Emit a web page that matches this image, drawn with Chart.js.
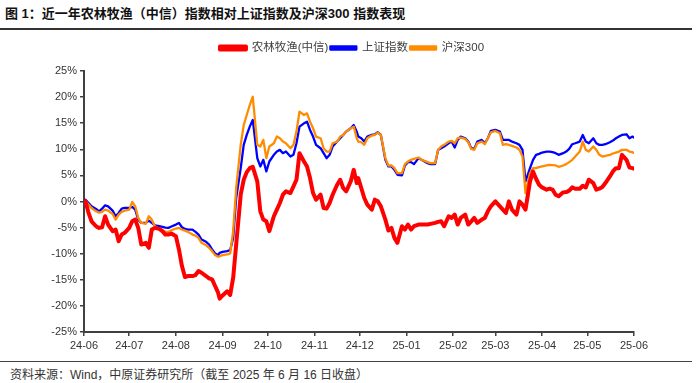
<!DOCTYPE html>
<html><head><meta charset="utf-8">
<script src="https://cdn.jsdelivr.net/npm/chart.js@4"></script>
<style>
html,body{margin:0;padding:0;background:#fff;width:700px;height:383px;overflow:hidden}
#title{position:absolute;left:5px;top:3px;font:bold 13px "Liberation Sans","Noto Sans CJK SC";color:#111;white-space:nowrap}
#rule1{position:absolute;left:0;top:28px;width:692px;height:2px;background:#333}
#wrap{position:absolute;left:0;top:30px;width:700px;height:330px}
#rule2{position:absolute;left:0;top:361px;width:692px;height:1px;background:#444}
#src{position:absolute;left:10px;top:365px;font:12px "Liberation Sans","Noto Sans CJK SC";color:#333;white-space:nowrap}
</style></head>
<body>
<div id="title">图 1：近一年农林牧渔（中信）指数相对上证指数及沪深300 指数表现</div>
<div id="rule1"></div>
<div id="wrap"><canvas id="c" width="700" height="330"></canvas></div>
<div id="rule2"></div>
<div id="src">资料来源：Wind，中原证券研究所（截至 2025 年 6 月 16 日收盘）</div>
<script>
const seriesNames = ['农林牧渔(中信)', '上证指数', '沪深300'];
const tickDates = ['2024-06-16','2024-07-16','2024-08-16','2024-09-16','2024-10-16','2024-11-16','2024-12-16','2025-01-16','2025-02-16','2025-03-16','2025-04-16','2025-05-16','2025-06-16'];
const tickLabels = ['24-06','24-07','24-08','24-09','24-10','24-11','24-12','25-01','25-02','25-03','25-04','25-05','25-06'];
const dates = [
'2024-06-17','2024-06-19','2024-06-21','2024-06-24','2024-06-26','2024-06-28','2024-06-30','2024-07-02','2024-07-05','2024-07-07',
'2024-07-09','2024-07-11','2024-07-13','2024-07-16','2024-07-18','2024-07-20','2024-07-22','2024-07-24','2024-07-27','2024-07-29',
'2024-07-31','2024-08-02','2024-08-05','2024-08-07','2024-08-09','2024-08-11','2024-08-13','2024-08-16','2024-08-18','2024-08-20',
'2024-08-22','2024-08-24','2024-08-27','2024-08-29','2024-08-31','2024-09-02','2024-09-05','2024-09-07','2024-09-09','2024-09-11',
'2024-09-13',
'2024-09-14','2024-09-16','2024-09-19','2024-09-21','2024-09-23','2024-09-25','2024-09-28','2024-09-30','2024-10-02','2024-10-04',
'2024-10-06','2024-10-09','2024-10-11','2024-10-13','2024-10-15','2024-10-17','2024-10-20','2024-10-22','2024-10-24','2024-10-26',
'2024-10-28','2024-10-31','2024-11-02','2024-11-04','2024-11-06','2024-11-09','2024-11-11','2024-11-13','2024-11-15','2024-11-17',
'2024-11-20','2024-11-22','2024-11-24','2024-11-26','2024-11-28','2024-12-01','2024-12-03','2024-12-05','2024-12-07','2024-12-10',
'2024-12-12','2024-12-14',
'2024-12-15','2024-12-17','2024-12-19','2024-12-21','2024-12-24','2024-12-26','2024-12-28','2024-12-30','2025-01-02','2025-01-04',
'2025-01-06','2025-01-08','2025-01-10','2025-01-13','2025-01-15','2025-01-17','2025-01-19','2025-01-21','2025-01-24','2025-01-26',
'2025-01-28','2025-01-30','2025-02-01','2025-02-04','2025-02-06','2025-02-08','2025-02-10','2025-02-13','2025-02-15','2025-02-17',
'2025-02-19','2025-02-21','2025-02-24','2025-02-26','2025-02-28','2025-03-02','2025-03-04','2025-03-07','2025-03-09','2025-03-11',
'2025-03-13','2025-03-16',
'2025-03-19','2025-03-21','2025-03-23','2025-03-25','2025-03-27','2025-03-30','2025-04-01','2025-04-03','2025-04-05','2025-04-08',
'2025-04-10','2025-04-12','2025-04-14','2025-04-16','2025-04-19','2025-04-21','2025-04-23','2025-04-25','2025-04-27','2025-04-30',
'2025-05-02','2025-05-04','2025-05-06','2025-05-08','2025-05-11','2025-05-13','2025-05-15','2025-05-17','2025-05-20','2025-05-22',
'2025-05-24','2025-05-26','2025-05-28','2025-05-31','2025-06-02','2025-06-04','2025-06-06','2025-06-08','2025-06-11','2025-06-13',
'2025-06-15','2025-06-16'
];
const agriValues = [
0.03,-2.19,-3.79,-4.74,-5.06,-4.93,-2.83,-4.42,-5.69,-5.38,
-7.60,-6.33,-6.01,-5.06,-3.79,-3.47,-5.06,-8.24,-7.92,-8.87,
-5.38,-5.06,-5.25,-5.69,-6.33,-6.33,-6.14,-6.65,-9.19,-12.37,
-14.47,-14.28,-14.28,-14.09,-13.33,-13.65,-14.28,-14.73,-14.92,-16.19,
-17.46,
-18.6,-18.0,-17.2,-17.9,-14.60,-8.24,1.30,4.17,5.63,6.39,
6.65,3.85,-1.88,-3.47,-3.79,-5.69,-2.83,-1.56,-0.29,1.30,
1.94,1.62,2.89,4.17,9.26,7.66,6.71,4.48,1.62,0.35,
1.30,-1.24,-1.37,-0.29,1.30,3.21,4.17,2.58,1.94,3.85,
6.07,3.53,
4.48,2.58,0.67,-0.60,-1.56,0.35,0.03,-0.92,-3.47,-5.57,
-5.06,-6.97,-7.92,-4.74,-5.38,-4.42,-5.38,-4.74,-4.42,-4.42,
-4.42,-4.42,-4.29,-4.10,-3.91,-3.79,-4.74,-2.83,-3.15,-2.51,
-4.42,-3.15,-2.51,-4.42,-3.79,-3.15,-4.10,-3.47,-3.15,-1.88,
-0.92,0.03,
-0.92,-1.56,-2.19,0.03,-1.56,-2.51,0.03,-0.60,-1.56,3.85,
5.76,4.36,3.21,2.70,2.26,2.45,2.26,1.30,0.99,1.75,
1.81,2.07,2.70,2.45,2.45,3.02,2.70,4.17,3.53,2.26,
2.45,2.77,3.53,4.80,5.76,6.39,6.39,8.94,7.98,6.52,
6.39,6.27
];
const shValues = [
0.35,-0.29,-0.92,-1.43,-1.88,-1.37,-0.73,-0.92,-1.75,-2.83,
-2.19,-1.37,-1.24,-1.24,-1.05,-1.56,-3.47,-4.10,-4.10,-3.66,
-4.10,-4.55,-4.74,-4.87,-4.99,-5.06,-4.80,-4.42,-4.10,-4.93,
-5.25,-5.38,-5.38,-5.82,-6.33,-7.28,-7.73,-8.24,-9.19,-9.96,
-10.27,
-9.83,-9.64,-9.51,-9.32,-6.97,0.67,6.39,10.85,12.75,14.34,
15.62,8.30,6.71,7.98,5.76,7.66,8.94,9.57,9.89,9.26,
9.57,8.62,8.94,11.16,14.34,14.98,15.30,13.71,12.44,10.85,
10.21,9.26,8.30,8.94,10.53,11.48,12.12,12.75,13.39,14.03,
14.66,13.39,
12.44,12.12,11.48,12.44,12.75,12.88,13.26,12.75,7.98,6.71,
6.71,6.07,5.12,4.99,6.90,7.54,7.54,7.16,8.30,7.98,
7.66,7.35,7.16,7.16,9.89,10.21,10.53,11.16,11.48,10.34,
11.80,12.44,12.12,11.48,10.21,10.08,11.48,11.80,11.16,12.12,
13.52,13.71,
13.39,11.80,11.80,11.80,11.48,11.16,10.85,9.89,3.85,6.39,
7.98,8.94,9.13,9.38,9.57,9.57,9.45,9.26,8.94,9.26,
9.57,10.08,10.97,11.16,11.48,12.75,11.48,11.16,12.12,11.16,
10.85,10.85,10.97,11.35,11.67,12.12,12.44,12.75,12.88,12.12,
12.44,12.25
];
const hs300Values = [
0.16,-0.60,-1.24,-1.88,-2.13,-2.00,-1.56,-1.75,-2.39,-3.47,
-2.51,-2.00,-1.75,-1.56,-0.10,-0.92,-3.15,-4.10,-4.29,-2.83,
-3.47,-4.74,-5.38,-5.57,-5.76,-5.82,-5.50,-5.18,-5.06,-5.38,
-5.57,-5.82,-6.33,-6.52,-6.97,-7.92,-8.37,-8.87,-9.51,-10.27,
-10.59,
-10.46,-10.27,-10.15,-9.96,-5.69,2.58,10.85,14.66,16.57,18.48,
20.07,10.85,10.53,11.80,8.30,10.53,11.16,12.44,12.12,11.48,
11.16,10.21,10.85,13.39,17.21,16.57,16.89,15.30,14.03,12.44,
12.12,10.21,9.57,9.57,11.16,11.48,12.44,12.75,13.39,14.03,
14.34,12.12,
11.48,11.35,10.85,12.12,12.63,12.75,13.20,12.75,8.30,6.90,
6.90,6.39,5.44,5.44,7.16,7.66,7.98,8.17,8.43,7.98,
7.79,7.54,7.35,7.35,9.89,10.53,10.85,11.48,11.61,11.16,
12.12,12.25,11.99,11.35,10.08,9.89,11.16,11.48,10.97,12.12,
13.26,13.52,
13.07,10.85,10.97,10.85,10.65,10.34,9.89,8.62,1.62,5.44,
6.39,6.39,6.58,6.71,6.90,7.03,6.97,6.90,6.65,6.90,
7.16,7.54,7.98,8.62,9.57,11.48,9.89,9.57,10.53,9.89,
8.94,8.62,8.75,8.94,9.19,9.38,9.57,9.89,9.89,9.57,
9.45,9.26
];
const yTickMin = -25, yTickMax = 25, yTickStep = 5;

const BASE = Date.UTC(2024, 5, 16);
function dayNum(s) { const p = s.split('-').map(Number); return (Date.UTC(p[0], p[1]-1, p[2]) - BASE) / 86400000; }
function pts(vals) { return dates.map((d, i) => ({ x: dayNum(d), y: vals[i] })); }
const tickDays = tickDates.map(dayNum);

const axisColor = '#404040';
const tickFont = { family: '"Liberation Sans", Arial, sans-serif', size: 11 };

new Chart(document.getElementById('c'), {
  type: 'line',
  data: {
    datasets: [
      { label: seriesNames[0], data: pts(agriValues), borderColor: '#FF0000', backgroundColor: '#FF0000', borderWidth: 4, order: 0 },
      { label: seriesNames[1], data: pts(shValues), borderColor: '#0000FF', backgroundColor: '#0000FF', borderWidth: 2.3, order: 2 },
      { label: seriesNames[2], data: pts(hs300Values), borderColor: '#FF8C00', backgroundColor: '#FF8C00', borderWidth: 2.3, order: 1 }
    ]
  },
  options: {
    responsive: false,
    animation: false,
    events: [],
    elements: { point: { radius: 0 }, line: { tension: 0, borderJoinStyle: 'round', borderCapStyle: 'round' } },
    layout: { padding: { left: 40, right: 66, top: 17.5, bottom: 0 } },
    plugins: {
      tooltip: { enabled: false },
      legend: {
        position: 'top',
        align: 'center',
        labels: {
          sort: (a, b) => a.datasetIndex - b.datasetIndex,
          boxWidth: 26, boxHeight: 3, padding: 2,
          color: '#404040',
          font: { family: '"Liberation Sans", "Noto Sans CJK SC", sans-serif', size: 11.5 }
        }
      }
    },
    scales: {
      x: {
        type: 'linear',
        min: tickDays[0], max: tickDays[tickDays.length - 1],
        afterFit: s => { s.height = 28; },
        afterBuildTicks: s => { s.ticks = tickDays.map(v => ({ value: v })); },
        grid: { display: true, drawOnChartArea: false, drawTicks: true, tickLength: 4, color: axisColor, lineWidth: 1.5 },
        border: { display: true, color: axisColor, width: 2 },
        ticks: {
          autoSkip: false, maxRotation: 0, padding: 3, color: '#333', font: tickFont,
          callback: (v) => { const i = tickDays.indexOf(v); return i >= 0 ? tickLabels[i] : ''; }
        }
      },
      y: {
        min: yTickMin, max: yTickMax,
        afterFit: s => { s.width = 44; },
        grid: { display: true, drawOnChartArea: false, drawTicks: true, tickLength: 4, color: axisColor, lineWidth: 1.5 },
        border: { display: true, color: axisColor, width: 2 },
        ticks: { stepSize: yTickStep, padding: 3, color: '#333', font: tickFont, callback: v => v + '%' }
      }
    }
  },
  plugins: [{
    id: 'legendShift',
    afterLayout(chart) {
      const lg = chart.legend;
      if (lg) { lg.top -= 7.25; lg.bottom -= 7.25; lg.left += 15; lg.right += 15; }
    }
  }]
});
</script>
</body></html>
